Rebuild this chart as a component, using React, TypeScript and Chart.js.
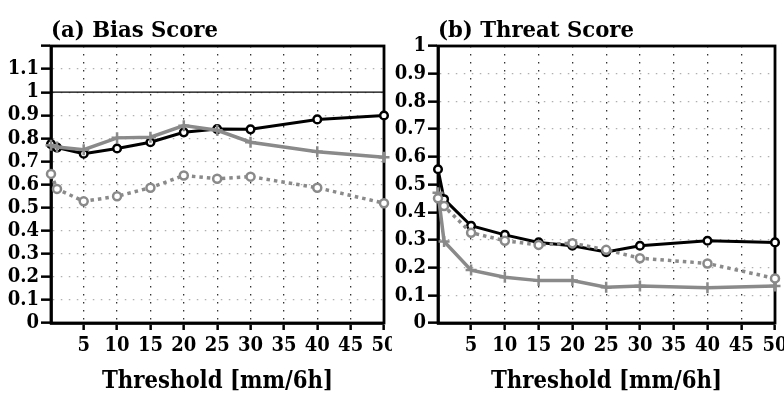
import React, { useEffect, useRef } from 'react';
import { Chart, registerables } from 'chart.js';

Chart.register(...registerables);

// ---- data ----
const thresholds = [0.1, 1, 5, 10, 15, 20, 25, 30, 40, 50];
const xTickValues = [5, 10, 15, 20, 25, 30, 35, 40, 45, 50];

const biasYTicks = [0, 0.1, 0.2, 0.3, 0.4, 0.5, 0.6, 0.7, 0.8, 0.9, 1, 1.1, 1.2];
const threatYTicks = [0, 0.1, 0.2, 0.3, 0.4, 0.5, 0.6, 0.7, 0.8, 0.9, 1];

const biasBlack = [0.775, 0.76, 0.733, 0.756, 0.783, 0.826, 0.84, 0.839, 0.882, 0.899];
const biasGrayCross = [0.77, 0.762, 0.751, 0.802, 0.805, 0.855, 0.835, 0.783, 0.742, 0.718];
const biasGrayDot = [0.646, 0.581, 0.527, 0.549, 0.586, 0.639, 0.625, 0.634, 0.586, 0.519];
const biasReference = [1, 1];
const biasReferenceX = [0.1, 50];

const threatBlack = [0.555, 0.447, 0.351, 0.318, 0.291, 0.279, 0.256, 0.279, 0.297, 0.291];
const threatGrayDot = [0.45, 0.422, 0.326, 0.297, 0.282, 0.288, 0.264, 0.234, 0.215, 0.161];
const threatGrayCross = [0.47, 0.294, 0.191, 0.165, 0.153, 0.153, 0.129, 0.134, 0.127, 0.134];

const GRAY = '#8a8a8a';
const TICK_FONT = "'DejaVu Serif Condensed', 'DejaVu Serif', serif";
const TEXT_FONT = "'DejaVu Serif Condensed', 'DejaVu Serif', serif";

function pts(xs: number[], ys: number[]) {
  return ys.map((y, i) => ({ x: xs[i], y }));
}

// draws text scaled so that it spans targetWidth and has the given cap height
function drawFitted(ctx: CanvasRenderingContext2D, text: string, x: number, baseline: number, align: 'left' | 'center', targetWidth: number, capHeight: number) {
  const size = capHeight / 0.729;
  ctx.save();
  ctx.font = `bold ${size}px ${TEXT_FONT}`;
  const w = ctx.measureText(text).width;
  const sx = targetWidth / w;
  const x0 = align === 'center' ? x - targetWidth / 2 : x;
  ctx.translate(x0, baseline);
  ctx.scale(sx, 1);
  ctx.textAlign = 'left';
  ctx.textBaseline = 'alphabetic';
  ctx.fillStyle = '#000';
  ctx.fillText(text, 0, 0);
  ctx.restore();
}

const panelPlugin = {
  id: 'panelDecor',
  beforeDatasetsDraw(chart: any) {
    const { ctx, chartArea } = chart;
    ctx.save();
    ctx.strokeStyle = '#000';
    ctx.lineWidth = 2.8;
    ctx.strokeRect(chartArea.left, chartArea.top, chartArea.right - chartArea.left, chartArea.bottom - chartArea.top);
    ctx.restore();
  },
  afterDraw(chart: any, _args: any, opts: any) {
    const { ctx, chartArea } = chart;
    drawFitted(ctx, opts.title, chartArea.left, 37, 'left', opts.titleWidth, 16);
    drawFitted(ctx, opts.xTitle, (chartArea.left + chartArea.right) / 2, 388, 'center', 231, 18);
  },
};

type PanelProps = {
  left: number;
  width: number;
  axisWidth: number;
  padRight: number;
  yTicks: number[];
  yMax: number;
  title: string;
  titleWidth: number;
  xTitle: string;
  datasets: any[];
};

function Panel(p: PanelProps) {
  const ref = useRef<HTMLCanvasElement>(null);
  useEffect(() => {
    if (!ref.current) return;
    const chart = new Chart(ref.current, {
      type: 'line',
      data: { datasets: p.datasets },
      plugins: [panelPlugin as any],
      options: {
        animation: false,
        responsive: false,
        devicePixelRatio: 1,
        layout: { padding: { left: 0, top: 46, right: p.padRight, bottom: 0 } },
        plugins: {
          legend: { display: false },
          tooltip: { enabled: false },
          panelDecor: { title: p.title, xTitle: p.xTitle, titleWidth: p.titleWidth },
        } as any,
        scales: {
          x: {
            type: 'linear',
            min: 0.1,
            max: 50,
            afterBuildTicks: (s: any) => {
              s.ticks = xTickValues.map((v) => ({ value: v }));
            },
            afterFit: (s: any) => {
              s.height = 71;
              s.paddingLeft = 0;
              s.paddingRight = 0;
            },
            ticks: {
              autoSkip: false,
              maxRotation: 0,
              padding: 4,
              color: '#000',
              font: { family: TICK_FONT, size: 20, weight: 'bold' },
              callback: (v: any) => String(v),
            },
            grid: {
              color: '#333',
              lineWidth: 1.3,
              tickLength: 7,
              tickColor: '#000',
              tickWidth: 2.5,
              tickBorderDash: [],
            },
            border: { display: true, color: '#000', width: 2.8, dash: [1.5, 6.5] },
          },
          y: {
            type: 'linear',
            min: 0,
            max: p.yMax,
            afterBuildTicks: (s: any) => {
              s.ticks = p.yTicks.map((v) => ({ value: v }));
            },
            afterFit: (s: any) => {
              s.width = p.axisWidth;
              s.paddingTop = 0;
              s.paddingBottom = 0;
            },
            ticks: {
              autoSkip: false,
              padding: 2,
              color: '#000',
              font: { family: TICK_FONT, size: 20, weight: 'bold' },
              callback: (v: any) => {
                const r = Math.round(Number(v) * 10) / 10;
                if (r > 1.15 && p.yMax > 1.1) return '';
                return String(r);
              },
            },
            grid: {
              color: '#b0b0b0',
              lineWidth: 1.3,
              tickLength: 10,
              tickColor: '#000',
              tickWidth: 2.5,
              tickBorderDash: [],
            },
            border: { display: true, color: '#000', width: 2.8, dash: [1.5, 6.5] },
          },
        },
      } as any,
    });
    return () => chart.destroy();
  }, []);
  return (
    <canvas
      ref={ref}
      width={p.width}
      height={394}
      style={{ position: 'absolute', left: p.left, top: 0, width: p.width, height: 394 }}
    />
  );
}

function dotSeries(values: number[]) {
  return {
    data: pts(thresholds, values),
    borderColor: GRAY,
    borderWidth: 3.5,
    borderDash: [3.5, 4],
    pointStyle: 'circle',
    pointRadius: 4,
    pointBorderWidth: 2.5,
    pointBorderColor: GRAY,
    pointBackgroundColor: '#fff',
    clip: false,
    tension: 0,
  };
}
function crossSeries(values: number[]) {
  return {
    data: pts(thresholds, values),
    borderColor: GRAY,
    borderWidth: 3.5,
    pointStyle: 'cross',
    pointRadius: 5.5,
    pointBorderWidth: 2.5,
    pointBorderColor: GRAY,
    clip: false,
    tension: 0,
  };
}
function blackSeries(values: number[]) {
  return {
    data: pts(thresholds, values),
    borderColor: '#000',
    borderWidth: 3,
    pointStyle: 'circle',
    pointRadius: 3.8,
    pointBorderWidth: 2.5,
    pointBorderColor: '#000',
    pointBackgroundColor: '#fff',
    clip: false,
    tension: 0,
  };
}

export default function App() {
  const biasSets = [
    {
      data: pts(biasReferenceX, biasReference),
      borderColor: '#000',
      borderWidth: 1.2,
      pointRadius: 0,
    },
    dotSeries(biasGrayDot),
    crossSeries(biasGrayCross),
    blackSeries(biasBlack),
  ];
  const threatSets = [dotSeries(threatGrayDot), crossSeries(threatGrayCross), blackSeries(threatBlack)];
  return (
    <div style={{ position: 'absolute', left: 0, top: 0, width: 784, height: 394, background: '#fff', overflow: 'hidden' }}>
      <Panel left={0} width={392} axisWidth={51} padRight={5} yTicks={biasYTicks} yMax={1.2}
        title="(a) Bias Score" titleWidth={167} xTitle="Threshold [mm/6h]" datasets={biasSets} />
      <Panel left={392} width={392} axisWidth={46} padRight={9} yTicks={threatYTicks} yMax={1}
        title="(b) Threat Score" titleWidth={196} xTitle="Threshold [mm/6h]" datasets={threatSets} />
    </div>
  );
}
